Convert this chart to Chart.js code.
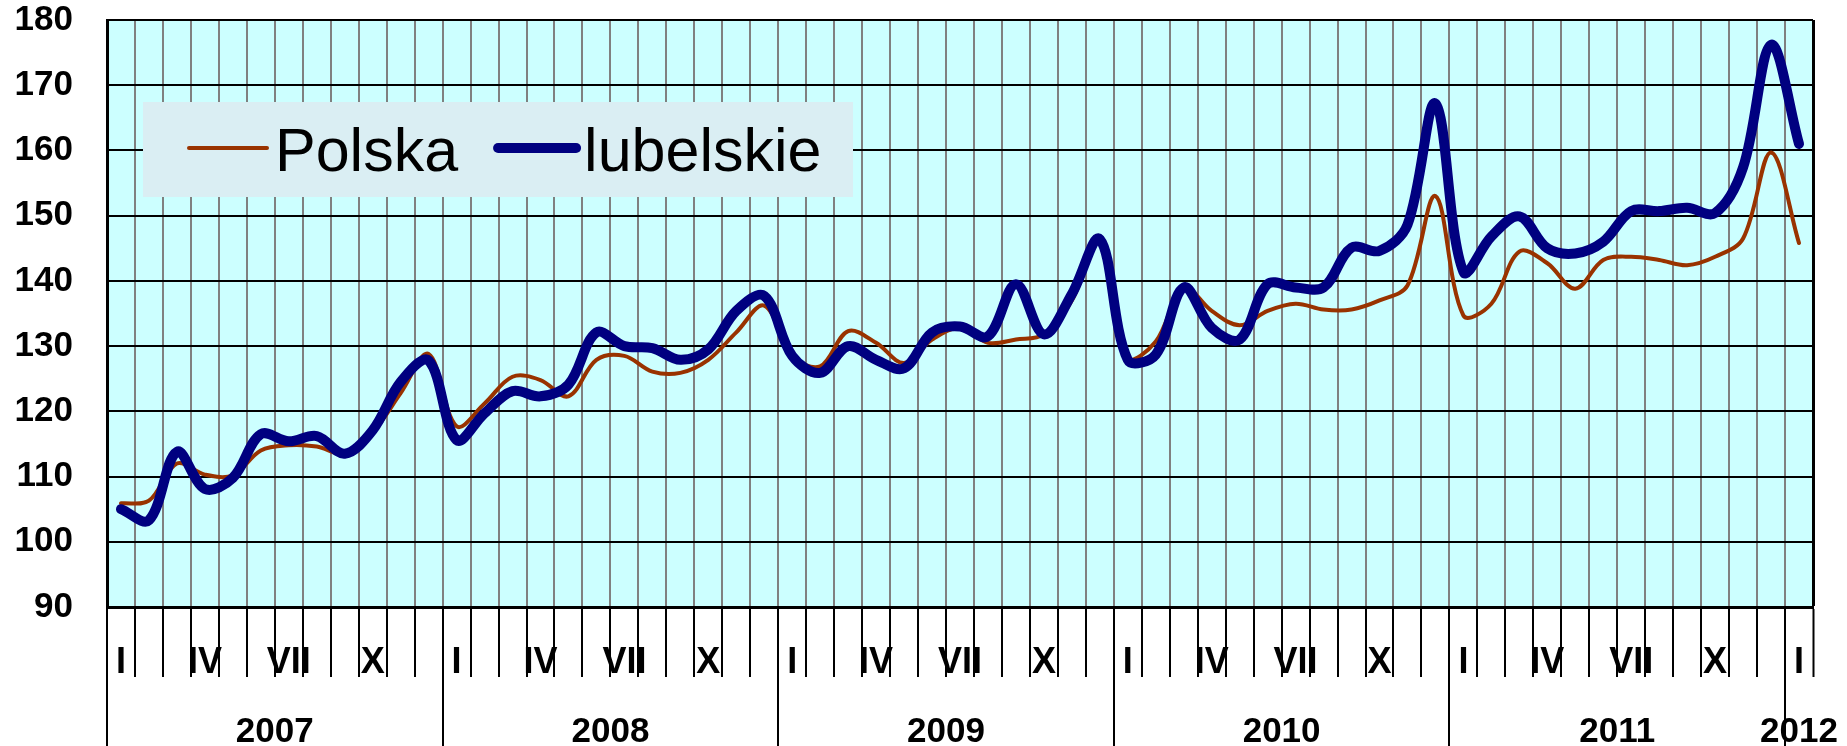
<!DOCTYPE html>
<html>
<head>
<meta charset="utf-8">
<title>Polska i lubelskie</title>
<script src="https://cdn.jsdelivr.net/npm/chart.js@4.4.1/dist/chart.umd.min.js"></script>
<style>
  html, body { margin: 0; padding: 0; background: #fff; }
  canvas { display: block; }
</style>
</head>
<body>
<canvas id="myChart" width="1847" height="746"></canvas>
<script>
// categories: months I 2007 .. I 2012
const romanMonths = ['I', 'II', 'III', 'IV', 'V', 'VI', 'VII', 'VIII', 'IX', 'X', 'XI', 'XII'];
const years = ['2007', '2008', '2009', '2010', '2011', '2012'];
const months = years.flatMap(y => y === '2012' ? ['I'] : romanMonths);

// series values
const polska = [
    105.9, 106.3, 112.0, 110.3, 110.2, 114.0, 114.8, 114.6, 113.5, 116.8, 122.8, 128.8,
    117.7, 121.2, 125.3, 124.8, 122.3, 127.9, 128.5, 126.1, 125.9, 127.9, 132.1, 136.2,
    128.5, 126.9, 132.3, 130.5, 127.4, 131.0, 132.8, 130.5, 131.0, 131.8, 137.0, 146.2,
    128.2, 130.7, 139.0, 135.4, 133.2, 135.4, 136.5, 135.6, 135.6, 137.0, 139.3, 153.0,
    134.7, 136.5, 144.5, 142.7, 138.8, 143.2, 143.7, 143.2, 142.4, 143.7, 146.5, 159.7,
    145.8
];
const lubelskie = [
    105.0, 103.3, 113.8, 108.1, 109.8, 116.5, 115.4, 116.2, 113.5, 117.1, 124.5, 127.8,
    115.6, 119.7, 123.1, 122.3, 124.1, 132.1, 130.0, 129.7, 127.9, 129.5, 135.4, 137.7,
    128.5, 125.9, 130.0, 127.9, 126.6, 132.1, 133.0, 131.5, 139.5, 131.8, 138.0, 146.4,
    127.9, 128.7, 139.0, 132.8, 131.0, 139.5, 139.0, 139.0, 145.1, 144.6, 148.6, 167.2,
    141.4, 146.8, 149.9, 145.0, 144.2, 146.0, 150.7, 150.7, 151.2, 150.4, 157.4, 176.2,
    161.0
];

// y axis ticks
const yMin = 90;
const yMax = 180;
const yStep = 10;

const fontFamily = '"Liberation Sans", Arial, sans-serif';

// year row: boundaries and centers in month-index units
let yearBounds = [];
let yearCenters = [];
years.forEach((y, k) => {
    let start = k * 12;
    let len = Math.min(12, months.length - start);
    yearBounds.push(start - 0.5);
    yearCenters.push({ value: start + (len - 1) / 2, label: y });
});

// plugins
const plotBackground = {
    id: 'plotBackground',
    beforeDraw(chart) {
        const { ctx, chartArea } = chart;
        ctx.save();
        ctx.fillStyle = '#CCFFFF';
        ctx.fillRect(chartArea.left, chartArea.top, chartArea.width, chartArea.height);
        ctx.restore();
    }
};

const boxLegend = {
    id: 'boxLegend',
    beforeDatasetsDraw(chart) {
        const { ctx, chartArea } = chart;
        const left = chartArea.left + 36;
        const top = chartArea.top + 82;
        ctx.save();
        ctx.fillStyle = '#DAEEF3';
        ctx.fillRect(left, top, 710, 95);

        ctx.font = '61px ' + fontFamily;
        ctx.textBaseline = 'alphabetic';
        ctx.fillStyle = '#000';
        let x = left + 46;
        const lineY = top + 46;
        chart.data.datasets.forEach((ds) => {
            ctx.strokeStyle = ds.borderColor;
            ctx.lineWidth = ds.borderWidth;
            ctx.lineCap = 'round';
            ctx.beginPath();
            ctx.moveTo(x, lineY);
            ctx.lineTo(x + 78, lineY);
            ctx.stroke();
            ctx.fillText(ds.label, x + 86, top + 69);
            x += 86 + ctx.measureText(ds.label).width + 40;
        });
        ctx.restore();
    }
};

const chart = new Chart(document.getElementById('myChart'), {
    type: 'line',
    data: {
        labels: months,
        datasets: [
            {
                label: 'Polska',
                data: polska,
                borderColor: '#993300',
                borderWidth: 4,
                order: 1
            },
            {
                label: 'lubelskie',
                data: lubelskie,
                borderColor: '#000080',
                borderWidth: 10,
                order: 0
            }
        ]
    },
    options: {
        responsive: false,
        animation: false,
        layout: { padding: { top: 20, right: 34, left: 0, bottom: 0 } },
        elements: {
            point: { radius: 0, hoverRadius: 0 },
            line: { tension: 0.35, borderCapStyle: 'round', borderJoinStyle: 'round', fill: false }
        },
        plugins: {
            legend: { display: false },
            tooltip: { enabled: false }
        },
        scales: {
            x: {
                type: 'category',
                position: 'bottom',
                weight: 0,
                offset: true,
                grid: {
                    offset: true,
                    color: c => c.type === 'tick' ? '#808080' : '#000',
                    lineWidth: c => c.type === 'tick' ? 2 : 3,
                    tickLength: 70,
                    tickColor: '#000',
                    tickWidth: 2
                },
                border: { color: '#000', width: 3 },
                ticks: {
                    autoSkip: false,
                    maxRotation: 0,
                    minRotation: 0,
                    padding: -32,
                    color: '#000',
                    font: { family: fontFamily, size: 36, weight: 'bold', lineHeight: 1 },
                    callback: function (value, index) {
                        return index % 3 === 0 ? this.getLabelForValue(value) : '';
                    }
                },
                afterFit: (s) => { s.height = 70; }
            },
            x2: {
                type: 'linear',
                position: 'bottom',
                weight: 1,
                min: -0.5,
                max: months.length - 0.5,
                grid: {
                    drawOnChartArea: false,
                    tickLength: 69,
                    color: c => (c.tick && yearBounds.includes(c.tick.value)) ? '#000' : 'rgba(0,0,0,0)',
                    lineWidth: 2
                },
                border: { display: false },
                ticks: {
                    autoSkip: false,
                    maxRotation: 0,
                    minRotation: 0,
                    padding: -31,
                    color: '#000',
                    font: { family: fontFamily, size: 35, weight: 'bold', lineHeight: 1 },
                    callback: (value) => {
                        const yc = yearCenters.find(c => c.value === value);
                        return yc ? yc.label : '';
                    }
                },
                afterBuildTicks: (s) => {
                    let vals = yearBounds.concat(yearCenters.map(c => c.value)).sort((a, b) => a - b);
                    s.ticks = vals.map(v => ({ value: v }));
                },
                afterFit: (s) => { s.height = 69; }
            },
            y: {
                min: yMin,
                max: yMax,
                grid: { color: '#000', lineWidth: 2, tickLength: 34, tickColor: 'rgba(0,0,0,0)' },
                border: { color: '#000', width: 3 },
                ticks: {
                    stepSize: yStep,
                    padding: 0,
                    color: '#000',
                    font: { family: fontFamily, size: 35, weight: 'bold', lineHeight: 1 }
                },
                afterFit: (s) => { s.width = 107; }
            }
        }
    },
    plugins: [plotBackground, boxLegend]
});
</script>
</body>
</html>
